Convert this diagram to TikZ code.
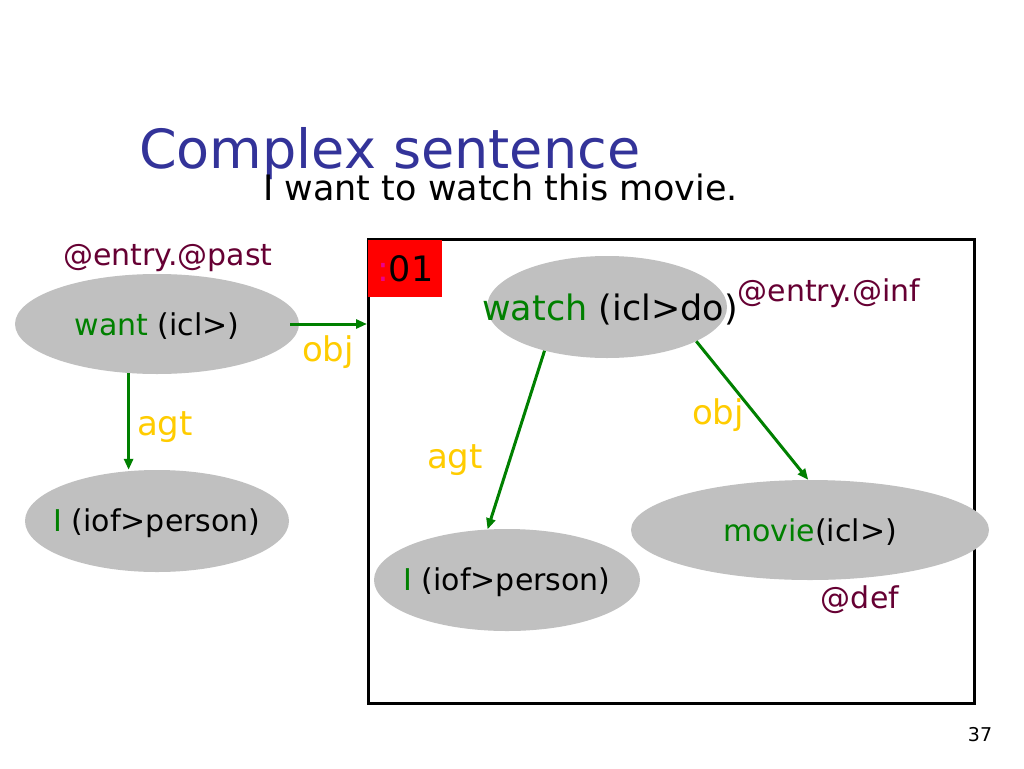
\documentclass[tikz,border=0pt]{standalone}
\usepackage{fontspec}
\setmainfont{DejaVu Sans}
\usetikzlibrary{arrows.meta,shapes.geometric}
\definecolor{titleblue}{HTML}{333399}
\definecolor{ugreen}{HTML}{008000}
\definecolor{uyellow}{HTML}{FFCC00}
\definecolor{umaroon}{HTML}{660033}
\definecolor{ugray}{HTML}{C0C0C0}
\begin{document}
\begin{tikzpicture}[x=1pt,y=-1pt,
  blob/.style={ellipse, fill=ugray, draw=none, inner sep=0pt},
  txt/.style={inner sep=0pt, font=\fontsize{30}{36}\selectfont},
  attr/.style={inner sep=0pt, text=umaroon, font=\fontsize{30}{36}\selectfont},
  rel/.style={inner sep=0pt, text=uyellow, font=\fontsize{34}{40}\selectfont},
  link/.style={draw=ugreen, line width=3pt, -{Triangle[length=11pt,width=9pt]}},
]
\useasboundingbox (0,0) rectangle (1024,768);
\fill[white] (0,0) rectangle (1024,768);
% title
\node[anchor=base west, inner sep=0pt, text=titleblue, font=\fontsize{54}{60}\selectfont] (title) at (139,168) {Complex sentence};
\node[anchor=base west, inner sep=0pt, font=\fontsize{35}{42}\selectfont] (sub) at (263,200) {I want to watch this movie.};
% left graph
\node[blob, minimum width=284, minimum height=100] (want) at (157,324) {};
\node[txt] (wantT) at (157,326) {\textcolor{ugreen}{want} (icl>)};
\node[attr] (past) at (168,258) {@entry.@past};
\node[blob, minimum width=264, minimum height=102] (iL) at (157,521) {};
\node[txt] (iLT) at (157,523) {\textcolor{ugreen}{I} (iof>person)};
% frame
\node[draw=black, line width=2.5pt, minimum width=606, minimum height=464, inner sep=0pt, anchor=north west] (frame) at (367,238) {};
\node[fill=red, minimum width=74, minimum height=57, inner sep=0pt, anchor=north west, font=\fontsize{35}{40}\selectfont] (tag) at (368,240) {\textcolor{magenta}{:}01};
% inner graph
\node[blob, minimum width=240, minimum height=102] (watch) at (607,307) {};
\node[inner sep=0pt, font=\fontsize{35}{42}\selectfont] (watchT) at (610,310) {\textcolor{ugreen}{watch} (icl>do)};
\node[attr] (inf) at (829,293) {@entry.@inf};
\node[blob, minimum width=358, minimum height=100] (movie) at (810,530) {};
\node[txt] (movieT) at (810,532) {\textcolor{ugreen}{movie}(icl>)};
\node[attr] (def) at (860,600) {@def};
\node[blob, minimum width=266, minimum height=102] (iR) at (507,580) {};
\node[txt] (iRT) at (507,582) {\textcolor{ugreen}{I} (iof>person)};
% connectors
\draw[link] ([xshift=-9pt]want.east) -- (frame.west |- want.east);
\node[rel] (objL) at (328,352) {obj};
\draw[link] (want.-120) -- (want.-120 |- iL.north);
\node[rel] (agtL) at (165,427) {agt};
\draw[link] (watch.-145) -- (iR.111);
\node[rel] (agtR) at (455,460) {agt};
\draw[link] (watch.-21) -- (movie.92);
\node[rel] (objR) at (718,415) {obj};
% page number
\node[inner sep=0pt, font=\fontsize{19}{22}\selectfont] (page) at (980,735) {37};
\end{tikzpicture}
\end{document}
